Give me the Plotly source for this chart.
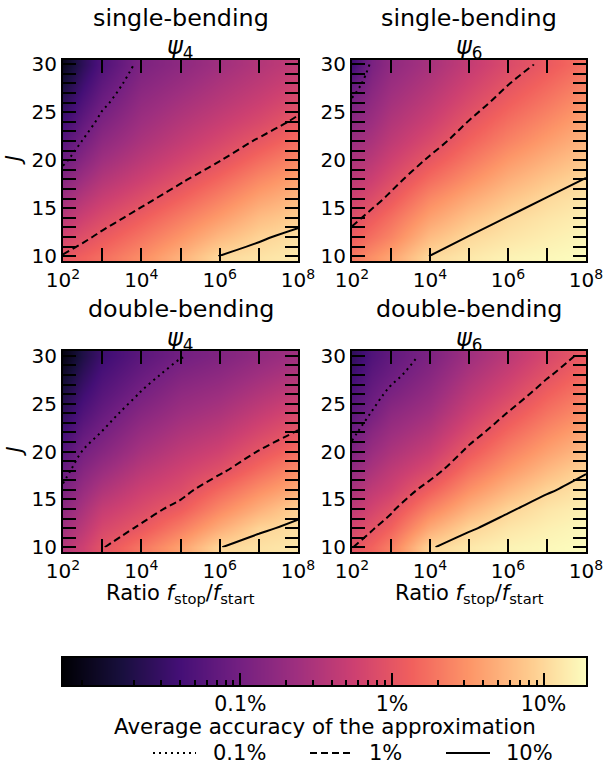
import math
import plotly.graph_objects as go

W, H = 604, 771
FONT = "DejaVu Sans"

# ---------------- data (log10 of average accuracy in %) ----------------
LOG_RATIO = [2, 2.5, 3, 4, 5, 6, 7, 8]          # log10(f_stop / f_start)
J_VALUES = [10, 12, 14, 16, 18, 20, 22, 24, 26, 28, 30]

SINGLE_PSI4 = [
    [0.02, 0.13, 0.23, 0.45, 0.72, 1.01, 1.08, 1.14],
    [-0.20, -0.06, 0.06, 0.28, 0.52, 0.78, 0.97, 1.06],
    [-0.42, -0.25, -0.12, 0.10, 0.33, 0.56, 0.80, 0.93],
    [-0.63, -0.44, -0.29, -0.08, 0.14, 0.37, 0.61, 0.77],
    [-0.85, -0.63, -0.46, -0.25, -0.04, 0.18, 0.42, 0.60],
    [-1.06, -0.82, -0.62, -0.40, -0.20, -0.01, 0.22, 0.42],
    [-1.25, -0.99, -0.77, -0.53, -0.34, -0.16, 0.03, 0.23],
    [-1.43, -1.15, -0.92, -0.64, -0.46, -0.30, -0.14, 0.05],
    [-1.60, -1.30, -1.06, -0.74, -0.57, -0.42, -0.27, -0.10],
    [-1.80, -1.45, -1.18, -0.84, -0.68, -0.52, -0.38, -0.23],
    [-2.00, -1.60, -1.30, -0.93, -0.78, -0.62, -0.47, -0.34],
]
SINGLE_PSI6 = [
    [0.30, 0.47, 0.62, 1.01, 1.12, 1.20, 1.24, 1.27],
    [0.10, 0.25, 0.40, 0.80, 1.01, 1.10, 1.17, 1.23],
    [-0.08, 0.08, 0.24, 0.60, 0.84, 1.01, 1.10, 1.17],
    [-0.24, -0.10, 0.06, 0.42, 0.66, 0.86, 1.01, 1.10],
    [-0.39, -0.26, -0.10, 0.22, 0.47, 0.70, 0.87, 1.01],
    [-0.53, -0.40, -0.24, 0.04, 0.30, 0.54, 0.72, 0.88],
    [-0.66, -0.53, -0.37, -0.12, 0.15, 0.38, 0.57, 0.75],
    [-0.80, -0.65, -0.48, -0.26, 0.01, 0.24, 0.43, 0.62],
    [-0.95, -0.75, -0.58, -0.37, -0.12, 0.11, 0.30, 0.50],
    [-1.15, -0.85, -0.67, -0.47, -0.23, -0.01, 0.18, 0.37],
    [-1.45, -0.95, -0.76, -0.56, -0.33, -0.12, 0.06, 0.25],
]
DOUBLE_PSI4 = [
    [-0.45, -0.25, -0.02, 0.28, 0.60, 0.995, 1.07, 1.12],
    [-0.62, -0.40, -0.17, 0.04, 0.34, 0.68, 0.97, 1.04],
    [-0.78, -0.54, -0.32, -0.12, 0.09, 0.42, 0.70, 0.95],
    [-0.95, -0.69, -0.50, -0.26, -0.10, 0.19, 0.46, 0.68],
    [-1.10, -0.84, -0.67, -0.41, -0.23, -0.05, 0.22, 0.46],
    [-1.26, -0.99, -0.84, -0.56, -0.37, -0.22, 0.01, 0.23],
    [-1.42, -1.15, -0.99, -0.70, -0.51, -0.38, -0.17, 0.02],
    [-1.58, -1.30, -1.12, -0.84, -0.64, -0.52, -0.33, -0.15],
    [-1.74, -1.44, -1.24, -0.98, -0.76, -0.65, -0.48, -0.32],
    [-1.90, -1.58, -1.35, -1.10, -0.89, -0.78, -0.62, -0.48],
    [-2.08, -1.72, -1.46, -1.21, -1.02, -0.90, -0.75, -0.62],
]
DOUBLE_PSI6 = [
    [-0.01, 0.15, 0.35, 0.98, 1.12, 1.20, 1.24, 1.27],
    [-0.19, -0.03, 0.14, 0.66, 0.97, 1.10, 1.18, 1.24],
    [-0.37, -0.20, -0.05, 0.38, 0.72, 0.97, 1.10, 1.18],
    [-0.55, -0.36, -0.24, 0.12, 0.48, 0.75, 0.97, 1.09],
    [-0.73, -0.52, -0.37, -0.12, 0.26, 0.54, 0.78, 0.98],
    [-0.91, -0.67, -0.52, -0.30, 0.06, 0.36, 0.60, 0.80],
    [-1.07, -0.82, -0.66, -0.46, -0.12, 0.18, 0.43, 0.63],
    [-1.20, -0.99, -0.79, -0.60, -0.27, 0.01, 0.27, 0.47],
    [-1.32, -1.10, -0.94, -0.72, -0.40, -0.15, 0.12, 0.33],
    [-1.45, -1.20, -1.07, -0.83, -0.52, -0.28, -0.03, 0.20],
    [-1.58, -1.30, -1.16, -0.93, -0.63, -0.40, -0.15, 0.06],
]

PANEL_DATA = [SINGLE_PSI4, SINGLE_PSI6, DOUBLE_PSI4, DOUBLE_PSI6]
PANEL_MODE = ["single-bending", "single-bending", "double-bending", "double-bending"]
PANEL_PSI = ["4", "6", "4", "6"]

CONTOUR_PCT = [0.1, 1, 10]
CONTOUR_LABELS = ["0.1%", "1%", "10%"]

X_TICK_EXP = [2, 4, 6, 8]
X_MINOR_EXP = [3, 5, 7]
Y_TICKS = [10, 15, 20, 25, 30]

CBAR_MIN, CBAR_MAX = -2.17, 1.28          # log10(%) limits of the colour scale
CBAR_MAJOR_PCT = [0.1, 1, 10]
CBAR_MAJOR_TEXT = ["0.1%", "1%", "10%"]
CBAR_MINOR_PCT = [0.009, 0.02, 0.03, 0.04, 0.05, 0.06, 0.07, 0.08, 0.09,
                  0.2, 0.3, 0.4, 0.5, 0.6, 0.7, 0.8, 0.9,
                  2, 3, 4, 5, 6, 7, 8, 9]

# ---------------- layout geometry (pixels) ----------------
PANELS = [(63, 298, 59.5, 261), (352, 586, 59.5, 261),
          (63, 298, 351, 552), (352, 586, 351, 552)]
CBAR_BOX = (63, 586, 658, 685)

DASHES = ["2px,4px", "7px,4px", "solid"]


def px_x(v):
    return v / W


def px_y(v):
    return 1 - v / H


fig = go.Figure()
layout = dict(
    width=W, height=H, margin=dict(l=0, r=0, t=0, b=0, pad=0, autoexpand=False),
    paper_bgcolor="white", plot_bgcolor="white", showlegend=False,
    font=dict(family=FONT, size=20, color="black"),
    coloraxis=dict(colorscale="Magma", cmin=CBAR_MIN, cmax=CBAR_MAX, showscale=False),
)

annotations = []
y_minor = [j for j in range(10, 31) if j not in Y_TICKS]

for i, (data, box) in enumerate(zip(PANEL_DATA, PANELS)):
    n = i + 1
    xa = "x" if n == 1 else f"x{n}"
    ya = "y" if n == 1 else f"y{n}"
    fig.add_trace(go.Heatmap(x=LOG_RATIO, y=J_VALUES, z=data, coloraxis="coloraxis",
                             zsmooth="best", xaxis=xa, yaxis=ya, hoverinfo="skip"))
    for lvl, dash in zip(CONTOUR_PCT, DASHES):
        lz = math.log10(lvl)
        fig.add_trace(go.Contour(
            x=LOG_RATIO, y=J_VALUES, z=data, xaxis=xa, yaxis=ya,
            contours=dict(start=lz, end=lz, size=1, coloring="none", showlabels=False),
            line=dict(color="black", width=2, dash=dash, smoothing=1),
            showscale=False, hoverinfo="skip"))
    l, r, t, b = box
    axis_common = dict(ticks="inside", ticklen=13, tickwidth=2, tickcolor="black",
                       showline=True, linewidth=2, linecolor="black", mirror="ticks",
                       showgrid=False, zeroline=False, automargin=False,
                       tickfont=dict(family=FONT, size=20, color="black"))
    layout["xaxis" if n == 1 else f"xaxis{n}"] = dict(
        domain=[px_x(l), px_x(r)], anchor=ya, range=[2, 8],
        tickmode="array", tickvals=X_TICK_EXP,
        ticktext=[f"10<sup>{e}</sup>" for e in X_TICK_EXP],
        minor=dict(tickvals=X_MINOR_EXP, ticks="inside", ticklen=13, tickwidth=2,
                   tickcolor="black", showgrid=False),
        **axis_common)
    layout["yaxis" if n == 1 else f"yaxis{n}"] = dict(
        domain=[px_y(b), px_y(t)], anchor=xa, range=[9.5, 30.5],
        tickmode="array", tickvals=Y_TICKS,
        minor=dict(tickvals=y_minor, ticks="inside", ticklen=13, tickwidth=2,
                   tickcolor="black", showgrid=False),
        **axis_common)
    cx = (l + r) / 2
    annotations.append(dict(text=PANEL_MODE[i], x=px_x(cx), y=px_y(t - 42), xref="paper",
                            yref="paper", showarrow=False, xanchor="center", yanchor="middle",
                            font=dict(family=FONT, size=23.8)))
    annotations.append(dict(text=f"<i>ψ</i><sub>{PANEL_PSI[i]}</sub>", x=px_x(cx), y=px_y(t - 12),
                            xref="paper", yref="paper", showarrow=False, xanchor="center",
                            yanchor="middle", font=dict(family=FONT, size=24)))
    if n in (1, 3):
        annotations.append(dict(text="<i>J</i>", x=px_x(14), y=px_y((t + b) / 2), xref="paper",
                                yref="paper", showarrow=False, textangle=-90,
                                xanchor="center", yanchor="middle",
                                font=dict(family=FONT, size=21)))
    if n in (3, 4):
        annotations.append(dict(text="Ratio <i>f</i><sub>stop</sub>/<i>f</i><sub>start</sub>",
                                x=px_x(cx), y=px_y(b + 42), xref="paper", yref="paper",
                                showarrow=False, xanchor="center", yanchor="middle",
                                font=dict(family=FONT, size=21)))

# ---------------- colour bar (axis 5) ----------------
fig.add_trace(go.Heatmap(x=[CBAR_MIN, CBAR_MAX], y=[0, 1],
                         z=[[CBAR_MIN, CBAR_MAX], [CBAR_MIN, CBAR_MAX]],
                         coloraxis="coloraxis", zsmooth="best",
                         xaxis="x5", yaxis="y5", hoverinfo="skip"))
cl, cr, ct, cb = CBAR_BOX
layout["xaxis5"] = dict(
    domain=[px_x(cl), px_x(cr)], anchor="y5", range=[CBAR_MIN, CBAR_MAX],
    tickmode="array", tickvals=[math.log10(v) for v in CBAR_MAJOR_PCT], ticktext=CBAR_MAJOR_TEXT,
    ticks="inside", ticklen=12, tickwidth=1.5, tickcolor="black",
    minor=dict(tickvals=[math.log10(v) for v in CBAR_MINOR_PCT], ticks="inside", ticklen=5,
               tickwidth=1.5, tickcolor="black", showgrid=False),
    showline=True, linewidth=1.5, linecolor="black", mirror=True, automargin=False,
    showgrid=False, zeroline=False, tickfont=dict(family=FONT, size=20.5, color="black"))
layout["yaxis5"] = dict(domain=[px_y(cb), px_y(ct)], anchor="x5", range=[0, 1],
                        showticklabels=False, ticks="", showline=True, linewidth=1.5,
                        linecolor="black", mirror=True, showgrid=False, zeroline=False,
                        automargin=False)

annotations.append(dict(text="Average accuracy of the approximation", x=px_x((cl + cr) / 2),
                        y=px_y(726), xref="paper", yref="paper", showarrow=False,
                        xanchor="center", yanchor="middle", font=dict(family=FONT, size=21.4)))

# ---------------- legend for contour styles ----------------
LEG_SAMPLE_X = [(153, 196), (310, 353), (446, 490)]
LEG_TEXT_X = [211, 367, 504]
LEG_Y = 753
shapes = []
for (x0, x1), tx, lab, dash in zip(LEG_SAMPLE_X, LEG_TEXT_X, CONTOUR_LABELS, DASHES):
    shapes.append(dict(type="line", xref="paper", yref="paper", x0=px_x(x0), x1=px_x(x1),
                       y0=px_y(LEG_Y), y1=px_y(LEG_Y), line=dict(color="black", width=2, dash=dash)))
    annotations.append(dict(text=lab, x=px_x(tx), y=px_y(LEG_Y), xref="paper", yref="paper",
                            showarrow=False, xanchor="left", yanchor="middle",
                            font=dict(family=FONT, size=21)))

layout["annotations"] = annotations
layout["shapes"] = shapes
fig.update_layout(**layout)
fig.write_html("out.html")
